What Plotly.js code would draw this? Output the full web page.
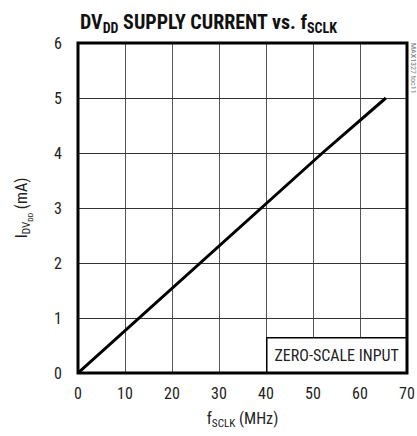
<!DOCTYPE html>
<html>
<head>
<meta charset="utf-8">
<script src="https://cdn.plot.ly/plotly-3.0.1.min.js"></script>
<style>html,body{margin:0;padding:0;background:#fff;}#chart{width:417px;height:436px;}</style>
</head>
<body>
<div id="chart"></div>
<script>
// Data
const fSCLK = [0, 13, 26, 39.2, 52, 65.5];        // MHz
const iDVDD = [0, 1, 2, 3, 4, 5];                  // mA
const xTicks = [0, 10, 20, 30, 40, 50, 60, 70];
const yTicks = [0, 1, 2, 3, 4, 5, 6];

const FONT = '"Liberation Sans Narrow", "Roboto Condensed", "Liberation Sans", Arial, sans-serif';

const trace = {
  x: fSCLK, y: iDVDD, type: 'scatter', mode: 'lines',
  line: {color: '#000', width: 3}, hoverinfo: 'skip'
};

const layout = {
  width: 417, height: 436,
  margin: {l: 78, r: 10, t: 43, b: 63},
  paper_bgcolor: '#fff', plot_bgcolor: '#fff',
  showlegend: false,
  font: {family: FONT, color: '#222', size: 15},
  title: {
    text: '<b>DV<sub>DD</sub> SUPPLY CURRENT vs. f<sub>SCLK</sub></b>',
    font: {family: FONT, size: 20, color: '#111'},
    x: 0.5, xanchor: 'center', y: 0.95, yanchor: 'middle'
  },
  xaxis: {
    range: [0, 70], tickvals: xTicks, ticktext: xTicks.map(String),
    showgrid: true, gridcolor: '#555', gridwidth: 1,
    zeroline: false, showline: false, ticks: '',
    ticklabelstandoff: 9,
    tickfont: {family: FONT, size: 16, color: '#222'},
    title: {text: 'f<sub>SCLK</sub> (MHz)', font: {family: FONT, size: 16, color: '#222'}, standoff: 10},
    fixedrange: true
  },
  yaxis: {
    range: [0, 6], tickvals: yTicks, ticktext: yTicks.map(String),
    showgrid: true, gridcolor: '#333', gridwidth: 1,
    zeroline: false, showline: false, ticks: '',
    ticklabelstandoff: 15,
    tickfont: {family: FONT, size: 16, color: '#222'},
    title: {text: 'I<sub>DV<sub>DD</sub></sub> (mA)', font: {family: FONT, size: 16, color: '#222'}, standoff: 22},
    fixedrange: true
  },
  shapes: [
    {type: 'rect', xref: 'paper', yref: 'paper', x0: 0, x1: 1, y0: 0, y1: 1,
     line: {color: '#000', width: 3}, fillcolor: 'rgba(0,0,0,0)', layer: 'above'}
  ],
  annotations: [
    {xref: 'paper', yref: 'paper', x: 1, y: 0, xanchor: 'right', yanchor: 'bottom',
     text: 'ZERO-SCALE INPUT', showarrow: false,
     font: {family: FONT, size: 16, color: '#222'},
     bgcolor: '#fff', bordercolor: '#000', borderwidth: 1.5, borderpad: 7},
    {xref: 'paper', yref: 'paper', x: 1.0, y: 1.0, xanchor: 'left', yanchor: 'top',
     xshift: 0, yshift: 2, text: 'MAX1327 toc11', showarrow: false, textangle: 90,
     font: {family: FONT, size: 8, color: '#777'}}
  ]
};

Plotly.newPlot('chart', [trace], layout, {staticPlot: true, displayModeBar: false});
</script>
</body>
</html>
